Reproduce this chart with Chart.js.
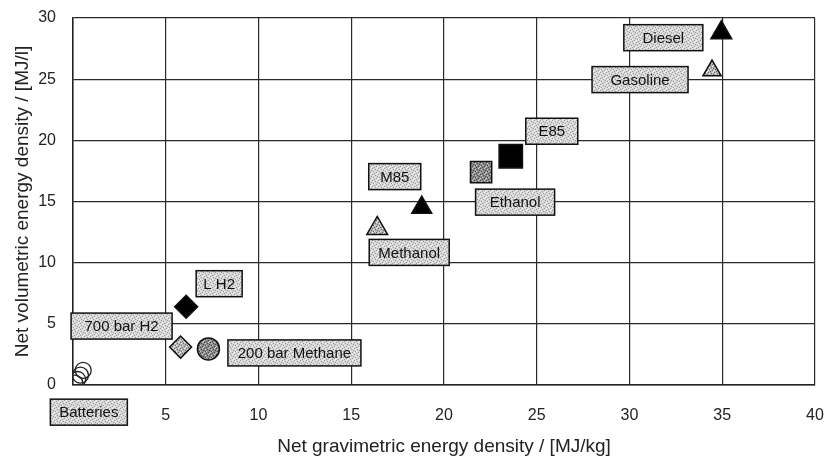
<!DOCTYPE html>
<html>
<head>
<meta charset="utf-8">
<script src="https://cdn.jsdelivr.net/npm/chart.js@4.4.1/dist/chart.umd.min.js"></script>
<style>
  html, body { margin: 0; padding: 0; background: #fff; }
  #wrap { width: 833px; height: 461px; }
</style>
</head>
<body>
<div id="wrap"><canvas id="myChart" width="833" height="461"></canvas></div>
<script>
const fuels = ["Diesel", "Gasoline", "E85", "Ethanol", "M85", "Methanol", "L H2", "700 bar H2", "200 bar Methane"];
const gravimetric = [34.95, 34.45, 23.6, 22.0, 18.8, 16.4, 6.1, 5.8, 7.3];
const volumetric = [28.8, 25.7, 18.7, 17.4, 14.5, 12.8, 6.4, 3.1, 2.95];

const batteryGrav = [0.1, 0.25, 0.4, 0.55];
const batteryVol = [0.15, 0.45, 0.8, 1.2];

const xTicks = [0, 5, 10, 15, 20, 25, 30, 35, 40];
const yTicks = [0, 5, 10, 15, 20, 25, 30];

// speckled grey like the scanned label boxes
function stipple(base, dark, light) {
  const c = document.createElement("canvas");
  c.width = 6; c.height = 6;
  const g = c.getContext("2d");
  g.fillStyle = base;
  g.fillRect(0, 0, 6, 6);
  const dots = [[0,0],[3,1],[1,3],[4,4],[5,2],[2,5]];
  g.fillStyle = dark;
  dots.forEach(d => g.fillRect(d[0], d[1], 1, 1));
  g.fillStyle = light;
  [[1,1],[4,0],[2,3],[5,5],[0,4]].forEach(d => g.fillRect(d[0], d[1], 1, 1));
  return g.createPattern(c, "repeat");
}
const boxFill = stipple("#d6d6d6", "#9a9a9a", "#f4f4f4");
const greyFill = stipple("#8a8a8a", "#444", "#cfcfcf");
const lightFill = stipple("#b8b8b8", "#666", "#eee");

const style = {
  "Diesel":          { shape: "triangle", r: 12, fill: "#000" },
  "Gasoline":        { shape: "triangle", r: 10.5, fill: lightFill },
  "E85":             { shape: "rect", r: 16.5, fill: "#000" },
  "Ethanol":         { shape: "rect", r: 15, fill: greyFill },
  "M85":             { shape: "triangle", r: 11.5, fill: "#000" },
  "Methanol":        { shape: "triangle", r: 12, fill: lightFill },
  "L H2":            { shape: "rectRot", r: 11.5, fill: "#000" },
  "700 bar H2":      { shape: "rectRot", r: 11, fill: lightFill },
  "200 bar Methane": { shape: "circle", r: 11, fill: greyFill },
};

// label box centre offsets from the marker, in pixels, and box width
const labelLayout = {
  "Diesel":          { dx: -58, dy: 5,  w: 79 },
  "Gasoline":        { dx: -72, dy: 9,  w: 96 },
  "E85":             { dx: 41,  dy: -25, w: 52 },
  "Ethanol":         { dx: 34,  dy: 30, w: 79 },
  "M85":             { dx: -27, dy: -31, w: 52 },
  "Methanol":        { dx: 32,  dy: 24, w: 80 },
  "L H2":            { dx: 33,  dy: -23, w: 46 },
  "700 bar H2":      { dx: -59, dy: -21, w: 101 },
  "200 bar Methane": { dx: 86,  dy: 4,  w: 133 },
  "Batteries":       { dx: 14,  dy: 29, w: 77 },
};

const datasets = fuels.map((name, i) => ({
  label: name,
  data: [{ x: gravimetric[i], y: volumetric[i] }],
  pointStyle: style[name].shape,
  pointRadius: style[name].r,
  pointHoverRadius: style[name].r,
  backgroundColor: style[name].fill,
  borderColor: "#111",
  borderWidth: 1.5,
}));
datasets.push({
  label: "Batteries",
  data: batteryGrav.map((g, i) => ({ x: g, y: batteryVol[i] })),
  pointStyle: "circle",
  pointRadius: 8,
  pointHoverRadius: 8,
  backgroundColor: "rgba(0,0,0,0)",
  borderColor: "#222",
  borderWidth: 1.3,
});

const labelBoxes = {
  id: "labelBoxes",
  afterDatasetsDraw(chart) {
    const ctx = chart.ctx;
    const xs = chart.scales.x, ys = chart.scales.y;
    ctx.save();
    ctx.font = "15px 'Liberation Sans', Arial, sans-serif";
    ctx.textAlign = "center";
    ctx.textBaseline = "middle";
    chart.data.datasets.forEach(ds => {
      const lay = labelLayout[ds.label];
      const p = ds.data[0];
      const cx = xs.getPixelForValue(p.x) + lay.dx;
      const cy = ys.getPixelForValue(p.y) + lay.dy;
      const h = 26;
      ctx.fillStyle = boxFill;
      ctx.fillRect(cx - lay.w / 2, cy - h / 2, lay.w, h);
      ctx.lineWidth = 1.5;
      ctx.strokeStyle = "#111";
      ctx.strokeRect(cx - lay.w / 2, cy - h / 2, lay.w, h);
      ctx.fillStyle = "#111";
      ctx.fillText(ds.label, cx, cy + 1);
    });
    ctx.restore();
  }
};

function noPad(s) {
  s.paddingTop = 0; s.paddingBottom = 0; s.paddingLeft = 0; s.paddingRight = 0;
}

const config = {
  type: "scatter",
  data: { datasets },
  plugins: [labelBoxes],
  options: {
    responsive: false,
    animation: false,
    layout: { padding: { top: 13, right: 12, left: 0, bottom: 0 } },
    plugins: {
      legend: { display: false },
      tooltip: { enabled: false },
    },
    scales: {
      x: {
        type: "linear",
        min: 0,
        max: 40,
        afterFit: s => { s.height = 76; noPad(s); },
        afterBuildTicks: s => { s.ticks = xTicks.map(v => ({ value: v })); },
        grid: { color: "#2a2a2a", lineWidth: 1.2, drawTicks: false },
        border: { color: "#222", width: 1.5 },
        ticks: {
          padding: 21,
          color: "#222",
          font: { size: 16, family: "'Liberation Sans', Arial, sans-serif" },
          callback: v => (v === 0 ? "" : v),
        },
        title: {
          display: true,
          text: "Net gravimetric energy density / [MJ/kg]",
          color: "#222",
          font: { size: 19, family: "'Liberation Sans', Arial, sans-serif" },
          padding: { top: 0, bottom: 3 },
        },
      },
      y: {
        type: "linear",
        min: 0,
        max: 30,
        afterFit: s => { s.width = 73; noPad(s); },
        afterBuildTicks: s => { s.ticks = yTicks.map(v => ({ value: v })); },
        grid: { color: "#2a2a2a", lineWidth: 1.2, drawTicks: false },
        border: { color: "#222", width: 1.5 },
        ticks: {
          padding: 17,
          color: "#222",
          font: { size: 16, family: "'Liberation Sans', Arial, sans-serif" },
        },
        title: {
          display: true,
          text: "Net volumetric energy density / [MJ/l]",
          color: "#222",
          font: { size: 19, family: "'Liberation Sans', Arial, sans-serif" },
          padding: { top: 11, bottom: 0 },
        },
      },
    },
  },
};

const myChart = new Chart(document.getElementById("myChart"), config);
</script>
</body>
</html>
